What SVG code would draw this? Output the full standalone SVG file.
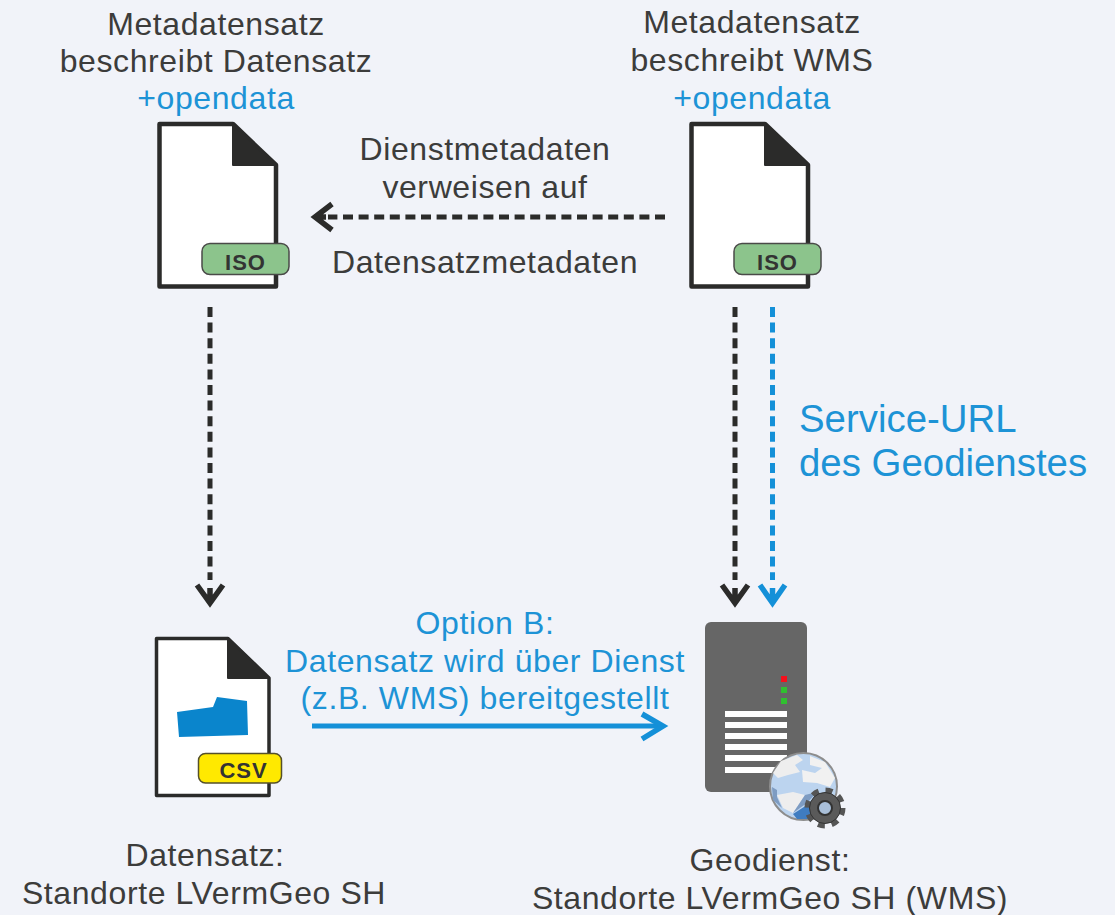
<svg xmlns="http://www.w3.org/2000/svg" width="1115" height="915" viewBox="0 0 1115 915">
<style>
text{font-family:"Liberation Sans",Arial,sans-serif;text-anchor:middle}
.d{font-size:32px;letter-spacing:.6px;fill:#3c3c3b}
.b{font-size:32px;letter-spacing:.6px;fill:#1d93d6}
.u{font-size:38.400px;fill:#1d93d6;text-anchor:start}
.page{fill:#fff;stroke:#2b2b2a;stroke-width:4.5;stroke-linejoin:round}
.fold{fill:#2b2b2a;stroke:#2b2b2a;stroke-width:2;stroke-linejoin:round}
.iso{fill:#8cc48c;stroke:#4a4a48;stroke-width:1.5}
.tag{font-size:22px;font-weight:bold;letter-spacing:1px;fill:#333}
.dash{fill:none;stroke-width:5;stroke-dasharray:10 5.6}
.head{fill:none;stroke-width:5.500}
.k{stroke:#2b2b2a}
.c{stroke:#1490d8}
.ln{fill:#fff}
</style>
<defs>
<g id="isodoc">
<path class="page" d="M159.500 124H233L276 165V286.500H159.500Z"/>
<path class="fold" d="M233 124L276 165H233Z"/>
<rect class="iso" x="202" y="243.500" width="87" height="31" rx="8"/>
<text class="tag" x="245.500" y="270">ISO</text>
</g>
</defs>
<rect width="1115" height="915" fill="#f1f3f9"/>
<g id="connectors">
<path class="dash k" d="M665 217H328"/>
<path class="head k" d="M332 204L315 217L332 230M315 217H326"/>
<path class="dash k" d="M210 307V580"/>
<path class="head k" d="M197 585L210 603L223 585M210 588V603"/>
<path class="dash k" d="M735 307V580"/>
<path class="head k" d="M722 585L735 603L748 585M735 588V603"/>
<path class="dash c" d="M772.500 307V580"/>
<path class="head c" d="M760 585L772.500 603L785 585M772.500 588V603"/>
<path fill="none" stroke="#1490d8" stroke-width="5" d="M312 726H660"/>
<path class="head c" d="M642 714L663 726L642 739"/>
</g>
<g id="doc-datensatz-meta">
<use href="#isodoc"/>
<text class="d" x="216" y="35">Metadatensatz</text>
<text class="d" x="216" y="72">beschreibt Datensatz</text>
<text class="b" x="216" y="109">+opendata</text>
</g>
<g id="doc-wms-meta">
<use href="#isodoc" x="532"/>
<text class="d" x="752" y="33">Metadatensatz</text>
<text class="d" x="752" y="71">beschreibt WMS</text>
<text class="b" x="752" y="109">+opendata</text>
</g>
<g id="label-verweis">
<text class="d" x="485" y="160">Dienstmetadaten</text>
<text class="d" x="485" y="198">verweisen auf</text>
<text class="d" x="485" y="273">Datensatzmetadaten</text>
</g>
<g id="label-service">
<text class="u" x="799" y="432">Service-URL</text>
<text class="u" x="799" y="476">des Geodienstes</text>
</g>
<g id="label-option">
<text class="b" x="485" y="634">Option B:</text>
<text class="b" x="485" y="672">Datensatz wird über Dienst</text>
<text class="b" x="485" y="709">(z.B. WMS) bereitgestellt</text>
</g>
<g id="doc-csv">
<path class="page" style="stroke-width:3.500" d="M156.500 638.500H228L269 678V795.500H156.500Z"/>
<path class="fold" d="M228 638.500L269 678H228Z"/>
<path d="M177 712L213 707L217 697L247 701L248 735L179 737Z" fill="#0a85cc"/>
<rect x="198.500" y="753.500" width="83" height="29.500" rx="7" fill="#ffe900" stroke="#55502a" stroke-width="1.500"/>
<text class="tag" x="243.500" y="778">CSV</text>
<text class="d" x="205" y="866">Datensatz:</text>
<text class="d" x="204" y="904">Standorte LVermGeo SH</text>
</g>
<g id="server">
<rect x="705" y="622" width="102" height="170" rx="6" fill="#666"/>
<rect x="781" y="676" width="6" height="6" fill="#f5101c"/>
<rect x="781" y="687" width="6" height="6" fill="#30c030"/>
<rect x="781" y="698" width="6" height="6" fill="#30c030"/>
<rect class="ln" x="725" y="711" width="62" height="6"/>
<rect class="ln" x="725" y="722" width="62" height="6"/>
<rect class="ln" x="725" y="733" width="62" height="6"/>
<rect class="ln" x="725" y="744" width="62" height="6"/>
<rect class="ln" x="725" y="755" width="62" height="6"/>
<rect class="ln" x="725" y="767" width="62" height="6"/>
<circle cx="803.500" cy="786.500" r="33.500" fill="#bcd4ef" stroke="#8d8d8d" stroke-width="2"/>
<path d="M781 761L797 755L803 760L795 765L800 772L788 775L778 778L773 773Z" fill="#eee"/>
<path d="M810 756L825 762L835 778L830 787L817 783L803 782L802 770L815 773L822 768L810 765Z" fill="#f1f1f1"/>
<path d="M777 795L793 792L805 795L800 803L793 813L783 808Z" fill="#eee"/>
<path d="M772 787L777 790L777 797L782 808L773 800Z" fill="#7e9cc2"/>
<path d="M805 795L817 792L807 803L793 813Z" fill="#7e9cc2"/>
<path d="M793 814L807 805L815 810L813 819L797 819Z" fill="#3f7cc0"/>
<g id="gear">
<circle cx="825" cy="808" r="17" fill="none" stroke="#555" stroke-width="7" stroke-dasharray="6.700 6.650"/>
<circle cx="825" cy="808" r="15.500" fill="#5a5a5a" stroke="#333" stroke-width="1"/>
<circle cx="825" cy="808" r="7" fill="#a9bfd9" stroke="#333" stroke-width="2"/>
</g>
<text class="d" x="770" y="871">Geodienst:</text>
<text class="d" x="770" y="909">Standorte LVermGeo SH (WMS)</text>
</g>
</svg>
